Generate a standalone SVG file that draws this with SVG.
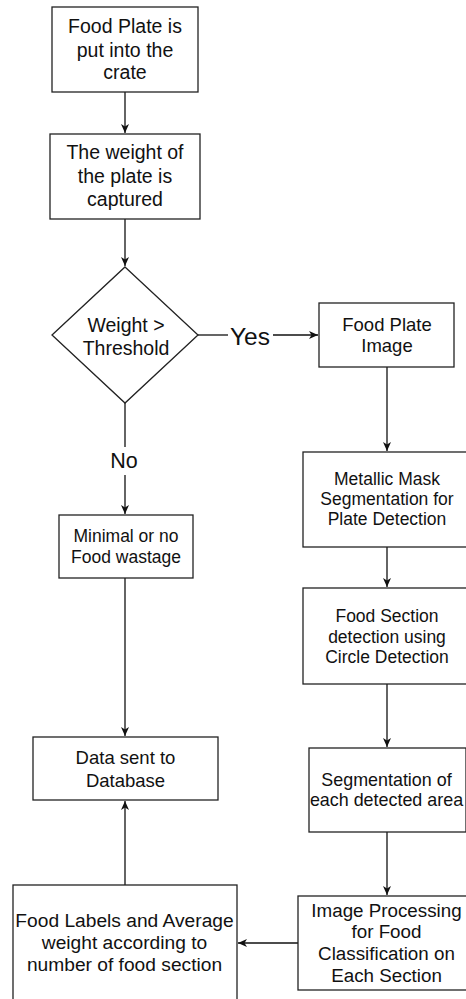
<svg xmlns="http://www.w3.org/2000/svg" width="466" height="999" viewBox="0 0 466 999">
<defs>
<marker id="arr" markerUnits="userSpaceOnUse" markerWidth="10" markerHeight="10" refX="9" refY="5" orient="auto">
<path d="M0,1 L9,5 L0,9 L2.5,5 Z" fill="#111"/>
</marker>
<style>
.box{fill:#fff;stroke:#222;stroke-width:1.3}
.t{font-family:"Liberation Sans",Arial,sans-serif;fill:#111;text-anchor:middle}
.c{fill:none;stroke:#111;stroke-width:1.3}
</style>
</defs>
<rect width="466" height="999" fill="#fff"/>
<g id="connectors">
<line class="c" x1="125" y1="92" x2="125" y2="133" marker-end="url(#arr)"/>
<line class="c" x1="125" y1="219" x2="125" y2="266" marker-end="url(#arr)"/>
<line class="c" x1="198" y1="335" x2="228" y2="335"/>
<line class="c" x1="273" y1="335" x2="318" y2="335" marker-end="url(#arr)"/>
<line class="c" x1="125" y1="403" x2="125" y2="447"/>
<line class="c" x1="125" y1="475" x2="125" y2="514" marker-end="url(#arr)"/>
<line class="c" x1="125" y1="578" x2="125" y2="736" marker-end="url(#arr)"/>
<line class="c" x1="125" y1="885" x2="125" y2="801" marker-end="url(#arr)"/>
<line class="c" x1="387" y1="367" x2="387" y2="451" marker-end="url(#arr)"/>
<line class="c" x1="387" y1="547" x2="387" y2="587" marker-end="url(#arr)"/>
<line class="c" x1="387" y1="684" x2="387" y2="747" marker-end="url(#arr)"/>
<line class="c" x1="387" y1="832" x2="387" y2="895" marker-end="url(#arr)"/>
<line class="c" x1="298" y1="943" x2="238" y2="943" marker-end="url(#arr)"/>
<text class="t" x="250" y="345" font-size="24.5">Yes</text>
<text class="t" x="124" y="468" font-size="21.5">No</text>
</g>
<g id="n1">
<rect class="box" x="52" y="7" width="146" height="85"/>
<text class="t" font-size="19.5"><tspan x="125" y="33">Food Plate is</tspan><tspan x="125" y="57">put into the</tspan><tspan x="125" y="79">crate</tspan></text>
</g>
<g id="n2">
<rect class="box" x="50" y="134" width="150" height="85"/>
<text class="t" font-size="19.5"><tspan x="125" y="159">The weight of</tspan><tspan x="125" y="183">the plate is</tspan><tspan x="125" y="206">captured</tspan></text>
</g>
<g id="n3">
<polygon class="box" points="125,267 198,335 125,403 52,335"/>
<text class="t" font-size="19.5"><tspan x="126" y="332">Weight &gt;</tspan><tspan x="126" y="355">Threshold</tspan></text>
</g>
<g id="n4">
<rect class="box" x="319" y="303" width="135" height="64"/>
<text class="t" font-size="18.5"><tspan x="387" y="331">Food Plate</tspan><tspan x="387" y="352">Image</tspan></text>
</g>
<g id="n5">
<rect class="box" x="303" y="452" width="170" height="95"/>
<text class="t" font-size="17.5"><tspan x="387" y="485">Metallic Mask</tspan><tspan x="387" y="505">Segmentation for</tspan><tspan x="387" y="525">Plate Detection</tspan></text>
</g>
<g id="n6">
<rect class="box" x="59" y="515" width="134" height="63"/>
<text class="t" font-size="17.5"><tspan x="126" y="542">Minimal or no</tspan><tspan x="126" y="563">Food wastage</tspan></text>
</g>
<g id="n7">
<rect class="box" x="303" y="588" width="170" height="96"/>
<text class="t" font-size="17.5"><tspan x="387" y="622">Food Section</tspan><tspan x="387" y="643">detection using</tspan><tspan x="387" y="663">Circle Detection</tspan></text>
</g>
<g id="n8">
<rect class="box" x="33" y="737" width="185" height="63"/>
<text class="t" font-size="18.5"><tspan x="125.5" y="764">Data sent to</tspan><tspan x="125.5" y="787">Database</tspan></text>
</g>
<g id="n9">
<rect class="box" x="309" y="748" width="157" height="84"/>
<text class="t" font-size="17.9"><tspan x="386.5" y="786">Segmentation of</tspan><tspan x="386.5" y="806">each detected area</tspan></text>
</g>
<g id="n10">
<rect class="box" x="298" y="896" width="170" height="94"/>
<text class="t" font-size="18.8"><tspan x="386.5" y="917">Image Processing</tspan><tspan x="386.5" y="938">for Food</tspan><tspan x="386.5" y="960">Classification on</tspan><tspan x="386.5" y="982">Each Section</tspan></text>
</g>
<g id="n11">
<rect class="box" x="13" y="885" width="224" height="120"/>
<text class="t" font-size="19.2"><tspan x="124.5" y="927">Food Labels and Average</tspan><tspan x="124.5" y="949">weight according to</tspan><tspan x="124.5" y="971">number of food section</tspan></text>
</g>
</svg>
